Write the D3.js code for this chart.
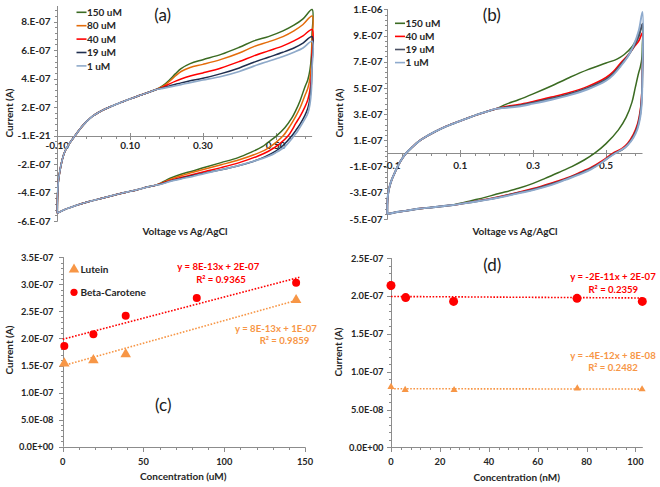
<!DOCTYPE html>
<html><head><meta charset="utf-8">
<script src="https://cdn.jsdelivr.net/npm/d3@7"></script>
<style>body{margin:0;background:#fff}svg{display:block}text{font-family:Lato,"Open Sans",sans-serif}</style>
</head><body><svg id="c" width="660" height="487"></svg>
<script>
// ---------- Panel (a): CV, current in units of 1e-7 A, voltage in V ----------
const aFwdCommon = [[-0.1,-5.45],[-0.0995,-4.4],[-0.097,-3.2],[-0.093,-2.5],[-0.087,-1.75],[-0.079,-1.1],[-0.065,-0.5],[-0.051,0],[-0.035,0.55],[-0.02,0.98],[-0.005,1.32],[0.013,1.62],[0.03,1.85],[0.05,2.07],[0.075,2.33],[0.1,2.58],[0.13,2.85],[0.155,3.08],[0.17,3.22]];
const a150Fwd = [[0.19,3.5],[0.21,3.95],[0.225,4.35],[0.24,4.7],[0.265,5.05],[0.3,5.33],[0.35,5.7],[0.4,6.2],[0.44,6.65],[0.48,6.95],[0.52,7.35],[0.55,7.75],[0.575,8.2],[0.6,8.85]];
const a80Fwd  = [[0.19,3.45],[0.21,3.85],[0.225,4.2],[0.24,4.5],[0.265,4.78],[0.3,5.0],[0.35,5.35],[0.4,5.8],[0.44,6.25],[0.48,6.58],[0.52,6.95],[0.55,7.35],[0.575,7.8],[0.6,8.4]];
const a40Fwd  = [[0.19,3.4],[0.21,3.65],[0.225,3.82],[0.24,3.97],[0.265,4.18],[0.3,4.4],[0.35,4.75],[0.4,5.2],[0.44,5.6],[0.48,5.95],[0.52,6.3],[0.55,6.65],[0.575,7.0],[0.6,7.45]];
const a19Fwd  = [[0.19,3.35],[0.21,3.5],[0.225,3.6],[0.24,3.7],[0.265,3.85],[0.3,4.02],[0.35,4.35],[0.4,4.75],[0.44,5.15],[0.48,5.5],[0.52,5.85],[0.55,6.15],[0.575,6.5],[0.6,6.95]];
const a1Fwd   = [[0.19,3.32],[0.21,3.42],[0.225,3.5],[0.24,3.58],[0.265,3.72],[0.3,3.9],[0.35,4.15],[0.4,4.5],[0.44,4.88],[0.48,5.22],[0.52,5.55],[0.55,5.85],[0.575,6.15],[0.6,6.62]];
const a150Rev = [[0.5995,7.0],[0.598,5.6],[0.594,4.6],[0.588,3.9],[0.58,3.4],[0.567,2.45],[0.555,1.75],[0.544,1.22],[0.525,0.55],[0.503,0],[0.48,-0.45],[0.462,-0.8],[0.43,-1.2],[0.397,-1.55],[0.35,-1.9],[0.306,-2.22],[0.27,-2.5],[0.242,-2.7],[0.21,-3.0],[0.187,-3.3],[0.168,-3.5]];
const a80Rev  = [[0.5995,6.5],[0.598,5.0],[0.594,4.0],[0.588,3.3],[0.58,2.8],[0.567,1.95],[0.555,1.35],[0.54,0.7],[0.521,0],[0.5,-0.5],[0.475,-0.95],[0.44,-1.35],[0.4,-1.7],[0.35,-2.05],[0.306,-2.35],[0.27,-2.6],[0.242,-2.8],[0.21,-3.08],[0.187,-3.33],[0.168,-3.5]];
const a40Rev  = [[0.5995,5.6],[0.598,4.2],[0.594,3.2],[0.588,2.5],[0.58,2.0],[0.567,1.35],[0.555,0.85],[0.545,0.4],[0.535,0],[0.51,-0.6],[0.48,-1.1],[0.45,-1.45],[0.4,-1.9],[0.35,-2.25],[0.306,-2.52],[0.27,-2.75],[0.242,-2.93],[0.21,-3.15],[0.187,-3.36],[0.168,-3.5]];
const a19Rev  = [[0.5995,5.0],[0.598,3.6],[0.594,2.6],[0.588,1.9],[0.58,1.4],[0.567,0.8],[0.555,0.35],[0.545,0],[0.52,-0.7],[0.5,-1.1],[0.47,-1.5],[0.44,-1.8],[0.4,-2.1],[0.35,-2.4],[0.306,-2.62],[0.27,-2.82],[0.242,-3.0],[0.21,-3.2],[0.187,-3.38],[0.168,-3.5]];
const a1Rev   = [[0.5995,4.6],[0.598,3.2],[0.594,2.2],[0.588,1.55],[0.58,1.15],[0.567,0.6],[0.56,0.3],[0.551,0],[0.526,-0.75],[0.5,-1.2],[0.48,-1.45],[0.44,-1.8],[0.407,-2.04],[0.35,-2.4],[0.306,-2.65],[0.27,-2.88],[0.242,-3.03],[0.21,-3.22],[0.187,-3.4],[0.168,-3.5]];
const aRevCommon = [[0.15,-3.6],[0.12,-3.8],[0.1,-3.92],[0.077,-4.05],[0.05,-4.22],[0.02,-4.42],[-0.015,-4.65],[-0.05,-4.92],[-0.08,-5.2],[-0.1,-5.45]];
const aNames  = ["150 uM","80 uM","40 uM","19 uM","1 uM"];
const aColors = ["#3b6b22","#e46c0a","#ff0000","#1f2e4e","#8ea9c9"];
const aYTicks = [-6e-7,-4e-7,-2e-7,0,2e-7,4e-7,6e-7,8e-7];
const aYLabels = ["-6.E-07","-4.E-07","-2.E-07","-1.E-21","2.E-07","4.E-07","6.E-07","8.E-07"];
const aXTicks = [-0.1,0.1,0.3,0.5];
const aXLabels = ["-0.10","0.10","0.30","0.50"];

// ---------- Panel (b) ----------
const bFwdCommon = [[-0.1,-4.62],[-0.0995,-3.6],[-0.097,-2.95],[-0.093,-2.45],[-0.088,-2.02],[-0.08,-1.5],[-0.07,-0.9],[-0.06,-0.42],[-0.047,0.06],[-0.03,0.52],[-0.015,0.9],[0.0,1.18],[0.031,1.66],[0.06,2.05],[0.095,2.43],[0.13,2.8],[0.168,3.15],[0.2,3.42]];
const b150Fwd = [[0.225,3.75],[0.26,4.1],[0.3,4.55],[0.35,5.15],[0.4,5.8],[0.45,6.4],[0.5,6.9],[0.53,7.2],[0.55,7.55],[0.57,8.1],[0.585,8.8],[0.6,9.7]];
const b40Fwd  = [[0.225,3.58],[0.26,3.73],[0.3,3.97],[0.35,4.3],[0.4,4.65],[0.45,5.12],[0.5,5.8],[0.52,6.25],[0.54,6.9],[0.56,7.5],[0.575,8.05],[0.59,8.6],[0.6,9.2]];
const b19Fwd  = [[0.225,3.52],[0.26,3.65],[0.3,3.88],[0.35,4.2],[0.4,4.55],[0.45,5.0],[0.5,5.65],[0.52,6.1],[0.54,6.75],[0.56,7.45],[0.575,8.1],[0.59,8.95],[0.6,9.9]];
const b1Fwd   = [[0.225,3.48],[0.26,3.58],[0.3,3.8],[0.35,4.1],[0.4,4.45],[0.45,4.9],[0.5,5.55],[0.52,6.0],[0.54,6.65],[0.56,7.4],[0.575,8.2],[0.59,9.4],[0.6,10.8]];
const b150Rev = [[0.5995,8.2],[0.598,7.2],[0.594,6.6],[0.589,6.1],[0.58,5.0],[0.571,3.9],[0.555,2.75],[0.534,1.8],[0.5,0.75],[0.468,0],[0.44,-0.5],[0.406,-1.0],[0.37,-1.45],[0.333,-1.9],[0.3,-2.28],[0.26,-2.66],[0.2,-3.1],[0.168,-3.35],[0.13,-3.6],[0.1,-3.8]];
const b40Rev  = [[0.5995,6.2],[0.598,4.6],[0.594,3.3],[0.587,2.3],[0.575,1.45],[0.56,0.8],[0.545,0.4],[0.518,0],[0.49,-0.55],[0.46,-1.05],[0.424,-1.5],[0.39,-1.9],[0.351,-2.25],[0.3,-2.68],[0.26,-2.97],[0.2,-3.35],[0.168,-3.52],[0.13,-3.7],[0.1,-3.85]];
const b19Rev  = [[0.5995,5.8],[0.598,4.3],[0.594,3.05],[0.587,2.1],[0.575,1.3],[0.56,0.7],[0.545,0.3],[0.522,0],[0.495,-0.55],[0.462,-1.1],[0.424,-1.58],[0.39,-1.95],[0.351,-2.33],[0.3,-2.75],[0.26,-3.0],[0.2,-3.38],[0.168,-3.54],[0.13,-3.72],[0.1,-3.85]];
const b1Rev   = [[0.5995,5.5],[0.598,3.9],[0.594,2.8],[0.586,1.85],[0.575,1.2],[0.56,0.65],[0.552,0.45],[0.525,0],[0.5,-0.45],[0.488,-0.7],[0.46,-1.2],[0.424,-1.64],[0.39,-2.0],[0.351,-2.4],[0.3,-2.8],[0.26,-3.04],[0.2,-3.4],[0.168,-3.56],[0.13,-3.72],[0.1,-3.85]];
const bRevCommon = [[0.075,-3.95],[0.05,-4.03],[0.02,-4.12],[-0.015,-4.22],[-0.05,-4.38],[-0.08,-4.5],[-0.1,-4.62]];
const bNames  = ["150 uM","40 uM","19 uM","1 uM"];
const bColors = ["#3b6b22","#ff0000","#4b5063","#8eaacd"];
const bYTicks = [-5e-7,-3e-7,-1e-7,1e-7,3e-7,5e-7,7e-7,9e-7,1.1e-6];
const bYLabels = ["-5.E-07","-3.E-07","-1.E-07","1.E-07","3.E-07","5.E-07","7.E-07","9.E-07","1.E-06"];
const bXTicks = [-0.1,0.1,0.3,0.5];
const bXLabels = ["-0.1","0.1","0.3","0.5"];

// ---------- Panel (c): concentration (uM) vs current (A) ----------
const cLuteinX = [1,19,39,144.5];
const cLuteinY = [1.54e-7,1.60e-7,1.71e-7,2.71e-7];
const cBetaX = [1,19,39,83,144.5];
const cBetaY = [1.86e-7,2.08e-7,2.42e-7,2.75e-7,3.03e-7];
const cBetaTrend = [[0,1.985e-7],[146.5,3.13e-7]];
const cLuteinTrend = [[0,1.495e-7],[146.5,2.72e-7]];
const cYTicks = [0,5e-8,1e-7,1.5e-7,2e-7,2.5e-7,3e-7,3.5e-7];
const cYLabels = ["0.0E+00","5.0E-08","1.0E-07","1.5E-07","2.0E-07","2.5E-07","3.0E-07","3.5E-07"];
const cXTicks = [0,50,100,150];

// ---------- Panel (d): concentration (nM) vs current (A) ----------
const dBetaX = [0,6,25.6,76.1,102.8];
const dBetaY = [2.14e-7,1.98e-7,1.93e-7,1.97e-7,1.93e-7];
const dLuteinX = [0,5.8,25.8,76.2,102.7];
const dLuteinY = [0.80e-7,0.76e-7,0.758e-7,0.78e-7,0.767e-7];
const dBetaTrend = [[0,1.995e-7],[103,1.975e-7]];
const dLuteinTrend = [[0,0.775e-7],[103,0.77e-7]];
const dYTicks = [0,5e-8,1e-7,1.5e-7,2e-7,2.5e-7];
const dYLabels = ["0.0E+00","5.0E-08","1.0E-07","1.5E-07","2.0E-07","2.5E-07"];
const dXTicks = [0,20,40,60,80,100];

const RED = "#ff0000", ORANGE = "#f79646";
const AXIS = "#8c8c8c", TXT = "#262626";
const svg = d3.select("#c");

function drawAxes(c) {
  const g = svg.append("g");
  const y0 = Math.round(c.ys(c.xAxisAt)) + 0.5, x0 = Math.round(c.xs(c.yAxisAt)) + 0.5;
  const [xa, xb] = c.xs.range(), [ya, yb] = c.ys.range();
  const ln = (x1,y1,x2,y2) => g.append("line").attr("x1",x1).attr("y1",y1).attr("x2",x2).attr("y2",y2).attr("stroke",AXIS).attr("stroke-width",1);
  c.xMinor.forEach(v => { const x = Math.round(c.xs(v))+0.5; ln(x, y0, x, y0 + c.minLen); });
  c.yMinor.forEach(v => { const y = Math.round(c.ys(v))+0.5; ln(x0 - c.minLen, y, x0, y); });
  c.xTicks.forEach(v => { const x = Math.round(c.xs(v))+0.5; ln(x, y0 - c.xCross, x, y0 + c.majLen); });
  c.yTicks.forEach(v => { const y = Math.round(c.ys(v))+0.5; ln(x0 - c.majLen, y, x0, y); });
  ln(xa, y0, xb, y0);
  ln(x0, ya, x0, yb);
  g.selectAll("text.xl").data(c.xTicks).join("text")
    .attr("x", (v,i) => c.xs(v) + (c.xLabDx ? c.xLabDx[i] : 0)).attr("y", c.xLabY).attr("text-anchor","middle")
    .attr("font-size", c.fs).attr("font-weight",700).attr("fill",TXT)
    .text((v,i) => c.xLabels[i]);
  g.selectAll("text.yl").data(c.yTicks).join("text")
    .attr("x", c.yLabX).attr("y", v => c.ys(v) + c.fs*0.36).attr("text-anchor","end")
    .attr("font-size", c.fs).attr("font-weight",700).attr("fill",TXT)
    .text((v,i) => c.yLabels[i]);
  g.append("text").attr("x", c.xTitle[0]).attr("y", c.xTitle[1]).attr("text-anchor","middle")
    .attr("font-size",10).attr("font-weight",700).attr("fill",TXT).text(c.xTitleText);
  g.append("text").attr("transform",`translate(${c.yTitle[0]},${c.yTitle[1]}) rotate(-90)`)
    .attr("text-anchor","middle").attr("font-size",10).attr("font-weight",700).attr("fill",TXT).text("Current (A)");
  svg.append("text").attr("x", c.tag[0]).attr("y", c.tag[1]).attr("text-anchor","middle")
    .attr("font-size",17).attr("fill","#1a1a1a").text(c.tagText);
}

function stepRange(a, b, s) { const out = []; for (let i = 0; a + i*s <= b + 1e-12; i++) out.push(a + i*s); return out; }

function drawCV(c, curves, names, colors, legend, widths) {
  const line = d3.line().x(d => c.xs(d[0])).y(d => c.ys(d[1]*1e-7)).curve(d3.curveCatmullRom.alpha(0.5));
  const g = svg.append("g");
  curves.forEach((pts, i) => {
    g.append("path").attr("d", line(pts)).attr("fill","none").attr("stroke", colors[i])
      .attr("stroke-width", widths[i]).attr("stroke-linejoin","round");
  });
  names.forEach((n, i) => {
    const y = legend.y0 + i*legend.dy;
    svg.append("line").attr("x1", legend.x).attr("x2", legend.x + 10).attr("y1", y).attr("y2", y)
      .attr("stroke", colors[i]).attr("stroke-width", 1.6);
    svg.append("text").attr("x", legend.x + 10.5).attr("y", y + 3.6).attr("font-size",10)
      .attr("font-weight",700).attr("fill",TXT).text(n);
  });
}

// ----- (a)
const axA = { xs: d3.scaleLinear([-0.1,0.6],[57.3,312.1]), ys: d3.scaleLinear([-6e-7,9.1e-7],[221,6]),
  xAxisAt: 0, yAxisAt: -0.1, xTicks: aXTicks, xLabels: aXLabels, yTicks: aYTicks, yLabels: aYLabels,
  xMinor: stepRange(-0.1,0.6,0.04), yMinor: stepRange(-6e-7,9.1e-7,4e-8), minLen: 2.5, majLen: 3.5, xCross: 3.5,
  xLabY: 149.2, yLabX: 50.5, fs: 10, xTitle: [185,234.5], yTitle: [12.5,113], xTitleText: "Voltage vs Ag/AgCl", tag: [162.7,21], tagText: "(a)" };
drawAxes(axA);
drawCV(axA, [
  aFwdCommon.concat(a150Fwd, a150Rev, aRevCommon),
  aFwdCommon.concat(a80Fwd, a80Rev, aRevCommon),
  aFwdCommon.concat(a40Fwd, a40Rev, aRevCommon),
  aFwdCommon.concat(a19Fwd, a19Rev, aRevCommon),
  aFwdCommon.concat(a1Fwd, a1Rev, aRevCommon)
], aNames, aColors, {x: 76.5, y0: 12.3, dy: 13.4}, [1.5,1.5,1.5,1.5,1.7]);

// ----- (b)
const axB = { xs: d3.scaleLinear([-0.1,0.6],[387.3,642.5]), ys: d3.scaleLinear([-5e-7,1.1e-6],[219,9.3]),
  xAxisAt: 0, yAxisAt: -0.1, xTicks: bXTicks, xLabels: bXLabels, xLabDx: [4.5,0,0,0], yTicks: bYTicks, yLabels: bYLabels,
  xMinor: stepRange(-0.1,0.6,0.04), yMinor: stepRange(-5e-7,1.1e-6,4e-8), minLen: 2.5, majLen: 3.5, xCross: 3.5,
  xLabY: 168.6, yLabX: 382.5, fs: 10, xTitle: [515,234.5], yTitle: [342.5,113], xTitleText: "Voltage vs Ag/AgCl", tag: [491.7,21], tagText: "(b)" };
drawAxes(axB);
drawCV(axB, [
  bFwdCommon.concat(b150Fwd, b150Rev, bRevCommon),
  bFwdCommon.concat(b40Fwd, b40Rev, bRevCommon),
  bFwdCommon.concat(b19Fwd, b19Rev, bRevCommon),
  bFwdCommon.concat(b1Fwd, b1Rev, bRevCommon)
], bNames, bColors, {x: 395, y0: 23.3, dy: 13.1}, [1.5,1.6,1.9,1.9]);

// ----- scatter panels
function drawScatter(c, sets) {
  const g = svg.append("g");
  sets.forEach(s => {
    g.append("line").attr("x1", c.xs(s.trend[0][0])).attr("y1", c.ys(s.trend[0][1]))
      .attr("x2", c.xs(s.trend[1][0])).attr("y2", c.ys(s.trend[1][1]))
      .attr("stroke", s.color).attr("stroke-width", 1.6).attr("stroke-dasharray","1.6,1.6");
  });
  sets.forEach(s => {
    s.x.forEach((xv, i) => {
      if (s.shape === "tri") {
        g.append("path").attr("d", d3.symbol(d3.symbolTriangle, s.size)())
          .attr("transform", `translate(${c.xs(xv)},${c.ys(s.y[i])})`).attr("fill", s.color);
      } else {
        g.append("circle").attr("cx", c.xs(xv)).attr("cy", c.ys(s.y[i])).attr("r", s.r).attr("fill", s.color);
      }
    });
    s.labels.forEach((t, k) => {
      g.append("text").attr("x", s.labelPos[k][0]).attr("y", s.labelPos[k][1]).attr("text-anchor","middle")
        .attr("font-size", 9.6).attr("font-weight",700).attr("fill", s.color).text(t);
    });
  });
}

const axC = { xs: d3.scaleLinear([0,150],[62.7,305]), ys: d3.scaleLinear([0,3.5e-7],[446.7,257.3]),
  xAxisAt: 0, yAxisAt: 0, xTicks: cXTicks, xLabels: cXTicks.map(String), yTicks: cYTicks, yLabels: cYLabels,
  xMinor: stepRange(0,150,10), yMinor: stepRange(0,3.5e-7,1e-8), minLen: 2.5, majLen: 4.5, xCross: 0,
  xLabY: 464.5, yLabX: 53.5, fs: 9.3, xTitle: [183.3,479.5], yTitle: [12.5,350], xTitleText: "Concentration (uM)", tag: [163.3,411], tagText: "(c)" };
drawAxes(axC);
drawScatter(axC, [
  { x: cBetaX, y: cBetaY, color: RED, shape: "circ", r: 4, trend: cBetaTrend,
    labels: ["y = 8E-13x + 2E-07","R² = 0.9365"], labelPos: [[218.3,269.5],[221,282.5]] },
  { x: cLuteinX, y: cLuteinY, color: ORANGE, shape: "tri", size: 48, trend: cLuteinTrend,
    labels: ["y = 8E-13x + 1E-07","R² = 0.9859"], labelPos: [[276,331.8],[284.5,343.5]] }
]);
// legend (c)
svg.append("path").attr("d", d3.symbol(d3.symbolTriangle, 48)()).attr("transform","translate(74,269.5)").attr("fill",ORANGE);
svg.append("text").attr("x",80.5).attr("y",272.8).attr("font-size",10).attr("font-weight",700).attr("fill",TXT).text("Lutein");
svg.append("circle").attr("cx",74).attr("cy",292.3).attr("r",3.6).attr("fill",RED);
svg.append("text").attr("x",80.5).attr("y",295.9).attr("font-size",10).attr("font-weight",700).attr("fill",TXT).text("Beta-Carotene");

const axD = { xs: d3.scaleLinear([0,103],[391,642.8]), ys: d3.scaleLinear([0,2.5e-7],[447.3,258.3]),
  xAxisAt: 0, yAxisAt: 0, xTicks: dXTicks, xLabels: dXTicks.map(String), yTicks: dYTicks, yLabels: dYLabels,
  xMinor: stepRange(0,103,4), yMinor: stepRange(0,2.5e-7,1e-8), minLen: 2.5, majLen: 4.5, xCross: 0,
  xLabY: 464.5, yLabX: 383.5, fs: 9.3, xTitle: [516.7,480.5], yTitle: [341.5,352], xTitleText: "Concentration (nM)", tag: [492.3,271], tagText: "(d)" };
drawAxes(axD);
drawScatter(axD, [
  { x: dBetaX, y: dBetaY, color: RED, shape: "circ", r: 4.5, trend: dBetaTrend,
    labels: ["y = -2E-11x + 2E-07","R² = 0.2359"], labelPos: [[613,279.5],[613.3,292.8]] },
  { x: dLuteinX, y: dLuteinY, color: ORANGE, shape: "tri", size: 22, trend: dLuteinTrend,
    labels: ["y = -4E-12x + 8E-08","R² = 0.2482"], labelPos: [[613,358.5],[613,371.2]] }
]);
</script></body></html>
